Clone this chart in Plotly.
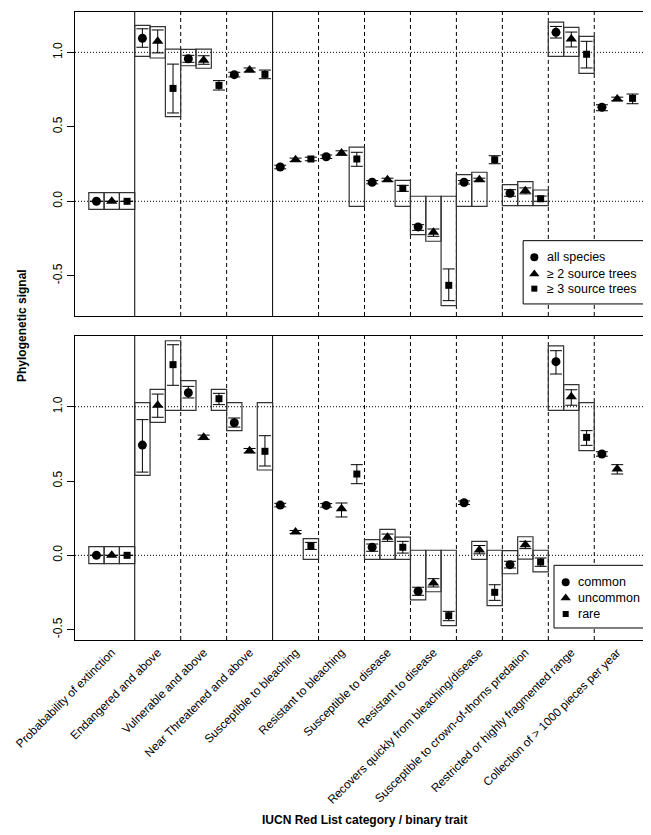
import plotly.graph_objects as go

categories = [
    "Probabability of extinction", "Endangered and above", "Vulnerable and above",
    "Near Threatened and above", "Susceptible to bleaching", "Resistant to bleaching",
    "Susceptible to disease", "Resistant to disease", "Recovers quickly from bleaching/disease",
    "Susceptible to crown-of-thorns predation", "Restricted or highly fragmented range",
    "Collection of > 1000 pieces per year",
]

# ---- top panel: all species / >=2 source trees / >=3 source trees
all_val = [0.0, 1.094, 0.957, 0.850, 0.230, 0.299, 0.128, -0.172, 0.128, 0.054, 1.134, 0.631]
all_lo = [0.0, 1.034, 0.933, 0.835, 0.218, 0.287, 0.117, -0.195, 0.116, 0.034, 1.096, 0.608]
all_hi = [0.0, 1.158, 0.980, 0.866, 0.242, 0.311, 0.139, -0.157, 0.140, 0.078, 1.174, 0.648]
all_box_lo = [-0.054, 0.973, 0.910, None, None, None, None, -0.224, -0.034, -0.029, 0.973, None]
all_box_hi = [0.058, 1.181, 1.020, None, None, None, None, 0.034, 0.179, 0.112, 1.203, None]

tr2_val = [0.0, 1.074, 0.946, 0.881, 0.279, 0.324, 0.145, -0.208, 0.145, 0.071, 1.089, 0.687]
tr2_lo = [0.0, 0.996, 0.920, 0.868, 0.268, 0.309, 0.135, -0.235, 0.135, 0.050, 1.036, 0.675]
tr2_hi = [0.0, 1.150, 0.977, 0.895, 0.290, 0.339, 0.155, -0.186, 0.155, 0.090, 1.136, 0.699]
tr2_box_lo = [-0.054, 0.962, 0.893, None, None, None, None, -0.268, -0.034, -0.029, 0.973, None]
tr2_box_hi = [0.058, 1.172, 1.022, None, None, None, None, 0.034, 0.195, 0.132, 1.168, None]

tr3_val = [0.0, 0.758, 0.778, 0.852, 0.284, 0.284, 0.087, -0.564, 0.279, 0.017, 0.987, 0.691]
tr3_lo = [0.0, 0.593, 0.747, 0.823, 0.272, 0.235, 0.067, -0.667, 0.252, 0.000, 0.895, 0.655]
tr3_hi = [0.0, 0.921, 0.810, 0.881, 0.296, 0.329, 0.107, -0.454, 0.306, 0.035, 1.074, 0.720]
tr3_box_lo = [-0.054, 0.568, None, None, None, -0.034, -0.034, -0.700, None, -0.029, 0.859, None]
tr3_box_hi = [0.058, 1.022, None, None, None, 0.364, 0.141, 0.034, None, 0.076, 1.107, None]

# ---- bottom panel: common / uncommon / rare
com_val = [0.0, 0.742, 1.094, 0.892, 0.338, 0.336, 0.054, -0.242, 0.354, -0.063, 1.303, 0.682]
com_lo = [0.0, 0.560, 1.059, 0.863, 0.326, 0.324, 0.027, -0.269, 0.342, -0.085, 1.220, 0.667]
com_hi = [0.0, 0.913, 1.137, 0.924, 0.350, 0.348, 0.076, -0.215, 0.366, -0.040, 1.377, 0.697]
com_box_lo = [-0.056, 0.538, 0.976, 0.839, None, None, -0.027, -0.300, None, -0.124, 0.976, None]
com_box_hi = [0.058, 1.027, 1.175, 1.027, None, None, 0.105, 0.034, None, 0.031, 1.410, None]

unc_val = [0.0, 1.010, 0.794, 0.704, 0.157, 0.314, 0.121, -0.186, 0.036, 0.071, 1.067, 0.581]
unc_lo = [0.0, 0.929, 0.779, 0.689, 0.147, 0.258, 0.094, -0.213, 0.010, 0.045, 1.010, 0.547]
unc_hi = [0.0, 1.085, 0.809, 0.719, 0.167, 0.352, 0.143, -0.157, 0.066, 0.094, 1.114, 0.610]
unc_box_lo = [-0.056, 0.895, None, None, None, None, -0.027, -0.245, -0.027, -0.025, 0.976, None]
unc_box_hi = [0.058, 1.117, None, None, None, None, 0.175, 0.034, 0.094, 0.125, 1.148, None]

rare_val = [0.0, 1.283, 1.054, 0.700, 0.063, 0.547, 0.054, -0.406, -0.249, -0.045, 0.794, None]
rare_lo = [0.0, 1.144, 1.014, 0.601, 0.040, 0.482, 0.015, -0.440, -0.303, -0.074, 0.740, None]
rare_hi = [0.0, 1.417, 1.090, 0.805, 0.087, 0.610, 0.094, -0.377, -0.198, -0.018, 0.839, None]
rare_box_lo = [-0.056, 0.976, 0.976, 0.574, -0.027, None, -0.027, -0.473, -0.339, -0.112, 0.704, None]
rare_box_hi = [0.058, 1.444, 1.117, 1.027, 0.112, None, 0.123, 0.034, 0.034, 0.034, 1.027, None]

top_names = ["all species", "\u2265 2 source trees", "\u2265 3 source trees"]
bot_names = ["common", "uncommon", "rare"]
symbols = ["circle", "triangle-up", "square"]
sizes = [9, 10, 7]

top_series = [
    (all_val, all_lo, all_hi, all_box_lo, all_box_hi),
    (tr2_val, tr2_lo, tr2_hi, tr2_box_lo, tr2_box_hi),
    (tr3_val, tr3_lo, tr3_hi, tr3_box_lo, tr3_box_hi),
]
bot_series = [
    (com_val, com_lo, com_hi, com_box_lo, com_box_hi),
    (unc_val, unc_lo, unc_hi, unc_box_lo, unc_box_hi),
    (rare_val, rare_lo, rare_hi, rare_box_lo, rare_box_hi),
]

XR = [-0.4, 37.4]
YR_TOP = [-0.7696, 1.2707]
YR_BOT = [-0.5698, 1.4755]

FONT = "Liberation Sans, Arial, Helvetica, sans-serif"
fig = go.Figure()
shapes = []
annotations = []
n = len(categories)


def add_panel(series, names, xa, ya, yr, leg):
    for s, (val, lo, hi, blo, bhi) in enumerate(series):
        xs = [3 * c + s + 1 for c in range(n)]
        plus = [(h - v) if (v is not None and h is not None) else None for v, h in zip(val, hi)]
        minus = [(v - l) if (v is not None and l is not None) else None for v, l in zip(val, lo)]
        fig.add_trace(go.Scatter(
            x=xs, y=val, mode="markers", name=names[s],
            marker=dict(symbol=symbols[s], size=sizes[s], color="black", line=dict(width=0)),
            error_y=dict(type="data", symmetric=False, array=plus, arrayminus=minus,
                         color="black", thickness=1, width=6),
            xaxis=xa, yaxis=ya, showlegend=False,
        ))
        for x, b0, b1 in zip(xs, blo, bhi):
            if b0 is None or b1 is None:
                continue
            shapes.append(dict(type="rect", xref=xa, yref=ya, x0=x - 0.5, x1=x + 0.5,
                               y0=b0, y1=b1, line=dict(color="#333333", width=1.2),
                               fillcolor="rgba(0,0,0,0)", layer="below"))
    # category dividers
    for k in range(1, n):
        xd = 3 * k + 0.5
        solid = k in (1, 4)
        shapes.append(dict(type="line", xref=xa, yref=ya + " domain", x0=xd, x1=xd, y0=0, y1=1,
                           line=dict(color="black", width=1, dash="solid" if solid else "4px,3px"),
                           layer="below"))
    for yv in (0.0, 1.0):
        shapes.append(dict(type="line", xref=xa + " domain", yref=ya, x0=0, x1=1, y0=yv, y1=yv,
                           line=dict(color="black", width=1, dash="1px,2px"), layer="below"))
    # legend (box, symbols, labels) in axis-domain fractions
    bx0, bx1, by0, by1, sx, tx, sys = leg
    shapes.append(dict(type="rect", xref=xa + " domain", yref=ya + " domain",
                       x0=bx0, x1=bx1, y0=by0, y1=by1,
                       line=dict(color="black", width=1), fillcolor="white", layer="below"))
    for s in range(3):
        fig.add_trace(go.Scatter(
            x=[XR[0] + sx * (XR[1] - XR[0])], y=[yr[0] + sys[s] * (yr[1] - yr[0])],
            mode="markers", marker=dict(symbol=symbols[s], size=sizes[s] - 1, color="black"),
            xaxis=xa, yaxis=ya, showlegend=False, hoverinfo="skip", cliponaxis=False,
        ))
        annotations.append(dict(text=names[s], xref=xa + " domain", yref=ya + " domain",
                                x=tx, y=sys[s], xanchor="left", yanchor="middle",
                                showarrow=False, font=dict(size=12.5)))


add_panel(top_series, top_names, "x", "y", YR_TOP,
          (0.774, 0.9943, 0.0395, 0.2477, 0.7933, 0.8120, [0.1931, 0.1382, 0.0898]))
add_panel(bot_series, bot_names, "x2", "y2", YR_BOT,
          (0.8273, 0.9943, 0.0395, 0.2457, 0.8475, 0.8660, [0.1898, 0.1382, 0.0855]))

yticks = [-0.5, 0.0, 0.5, 1.0]
ytext = ["-0.5", "0.0", "0.5", "1.0"]
xcenters = [3 * c + 2 for c in range(n)]

axis_common = dict(showline=True, mirror=True, linecolor="black", linewidth=1,
                   showgrid=False, zeroline=False)

annotations += [
    dict(text="<b>Phylogenetic signal</b>", xref="paper", yref="paper",
         x=-0.0915, y=0.5, xanchor="center", yanchor="middle", textangle=-90,
         showarrow=False, font=dict(size=12)),
    dict(text="<b>IUCN Red List category / binary trait</b>", xref="paper", yref="paper",
         x=0.5, y=-0.2866, xanchor="center", yanchor="middle",
         showarrow=False, font=dict(size=12)),
]

fig.update_layout(
    width=651, height=835,
    margin=dict(l=67, r=5, t=4, b=203),
    paper_bgcolor="white", plot_bgcolor="white",
    font=dict(family=FONT, size=12, color="black"),
    shapes=shapes,
    showlegend=False,
    xaxis=dict(domain=[0, 1], range=XR, anchor="y", showticklabels=False,
               ticks="", **axis_common),
    yaxis=dict(domain=[0.516, 1], range=YR_TOP, anchor="x",
               tickvals=yticks, ticktext=ytext, ticks="outside", ticklen=7,
               tickcolor="black", tickangle=-90, tickfont=dict(size=12), **axis_common),
    xaxis2=dict(domain=[0, 1], range=XR, anchor="y2", tickvals=xcenters,
                ticktext=categories, tickangle=-45, ticks="", tickfont=dict(size=11.8),
                **axis_common),
    yaxis2=dict(domain=[0, 0.484], range=YR_BOT, anchor="x2",
                tickvals=yticks, ticktext=ytext, ticks="outside", ticklen=7,
                tickcolor="black", tickangle=-90, tickfont=dict(size=12), **axis_common),
    annotations=annotations,
)

fig.write_html("out.html")
